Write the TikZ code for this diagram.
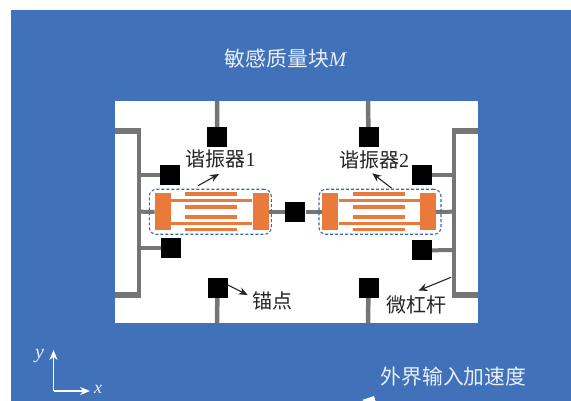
\documentclass[tikz,border=0pt]{standalone}
\usepackage{fontspec}
\setmainfont{Liberation Serif}
\newfontfamily\cjk{Noto Sans CJK SC}
\usetikzlibrary{arrows.meta}
\definecolor{bgblue}{HTML}{4172B9}
\definecolor{stemgray}{HTML}{757575}
\definecolor{resorange}{HTML}{E97A3B}
\definecolor{dashblue}{HTML}{3F68A8}
\definecolor{lighttext}{HTML}{E8EEF8}
\tikzset{
  x=1pt,y=-1pt,
  anchorbox/.style={fill=black,draw=none,minimum width=20pt,minimum height=20pt,inner sep=0pt},
  stem/.style={draw=stemgray,line width=4.5pt},
  leverarm/.style={draw=stemgray,line width=6pt},
  leverbeam/.style={draw=stemgray,line width=4.8pt},
  blockbox/.style={fill=resorange,draw=none,minimum width=16pt,minimum height=37pt,inner sep=0pt},
  bar/.style={draw=resorange,line width=3.1pt},
  tine/.style={draw=resorange,line width=3.5pt},
  frame/.style={draw=dashblue,densely dashed,line width=1.1pt,rounded corners=7pt,minimum width=122pt,minimum height=45pt,inner sep=0pt},
  lbl/.style={inner sep=0pt,font=\fontsize{20}{20}\selectfont\cjk,text=black!85},
  wlbl/.style={inner sep=0pt,font=\fontsize{20.8}{21}\selectfont\cjk,text=lighttext},
  callout/.style={draw=black!85,line width=1.1pt,-{Stealth[length=9pt,width=7.5pt]}},
  axisarrow/.style={draw=white,line width=1.3pt,-{Stealth[length=10pt,width=8pt]}},
}
\begin{document}
\begin{tikzpicture}
\useasboundingbox (0,0) rectangle (571,401);
\clip (0,0) rectangle (571,401);
\fill[white] (0,0) rectangle (571,401);
\fill[bgblue] (11,10) rectangle (571,401);
\fill[white] (115,101) rectangle (478,323);
% lever arms
\draw[leverbeam] (139,127.7) -- (139,297.7);
\draw[leverbeam] (454,128.3) -- (454,297.7);
\draw[leverarm] (115,130.7) -- (141.4,130.7);
\draw[leverarm] (115,294.7) -- (141.4,294.7);
\draw[leverarm] (478,131.3) -- (451.6,131.3);
\draw[leverarm] (478,294.7) -- (451.6,294.7);
% coordinates
\coordinate (LL) at (139,211.7);
\coordinate (RL) at (454,211.7);
\coordinate (LLa) at (139,175.3);
\coordinate (LLb) at (139,248.5);
\coordinate (RLa) at (454,175.3);
\coordinate (RLb) at (454,250);
\coordinate (T1) at (217,101);
\coordinate (T2) at (368,101);
\coordinate (B1) at (217,323);
\coordinate (B2) at (368,323);
% anchors
\node[anchorbox] (at1) at (217.2,137) {};
\node[anchorbox] (at2) at (368.5,137) {};
\node[anchorbox] (ab1) at (217.5,288) {};
\node[anchorbox] (ab2) at (368.5,288) {};
\node[anchorbox] (al1) at (170.3,175.3) {};
\node[anchorbox] (al2) at (171.2,248.5) {};
\node[anchorbox] (ar1) at (422.2,175.3) {};
\node[anchorbox] (ar2) at (422,250.5) {};
\node[anchorbox] (ac) at (295.3,212) {};
% resonator blocks
\node[blockbox] (b1l) at (162.8,212) {};
\node[blockbox] (b1r) at (260.5,212) {};
\node[blockbox] (b2l) at (330.3,212) {};
\node[blockbox] (b2r) at (427.8,212) {};
% stems
\draw[stem] (T1) -- (at1);
\draw[stem] (T2) -- (at2);
\draw[stem] (B1) -- (ab1);
\draw[stem] (B2) -- (ab2);
\draw[stem,line width=4pt] (LLa) -- (al1);
\draw[stem,line width=4pt] (LLb) -- (al2);
\draw[stem,line width=4pt] (RLa) -- (ar1);
\draw[stem,line width=4pt] (RLb) -- (ar2);
\draw[stem,line width=4pt] (LL) -- (b1l);
\draw[stem,line width=4pt] (RL) -- (b2r);
\draw[stem,line width=4pt] (b1r) -- (ac);
\draw[stem,line width=4pt] (b2l) -- (ac);
% bars
\draw[bar] (b1l.east |- 0,200.3) -- (b1r.west |- 0,200.3);
\draw[bar] (b1l.east |- 0,223.5) -- (b1r.west |- 0,223.5);
\draw[bar] (b2l.east |- 0,200.3) -- (b2r.west |- 0,200.3);
\draw[bar] (b2l.east |- 0,223.8) -- (b2r.west |- 0,223.8);
% tines
\foreach \yy in {194,207,217,229.5}{
  \draw[tine] (185.3,\yy) -- (237,\yy);
  \draw[tine] (353,\yy) -- (404.7,\yy);
}
% dashed frames
\node[frame] (r1) at (210.3,211.8) {};
\node[frame] (r2) at (380,211.8) {};
% labels
\node[wlbl] (title) at (285.5,59) {敏感质量块{\rmfamily\itshape M}};
\node[lbl] (l1) at (220.5,159) {谐振器{\rmfamily 1}};
\node[lbl] (l2) at (374,160) {谐振器{\rmfamily 2}};
\node[lbl] (l3) at (272,301) {锚点};
\node[lbl] (l4) at (416.5,304.5) {微杠杆};
\node[wlbl] (l5) at (453.5,377) {外界输入加速度};
% callouts
\coordinate (c1a) at (198,185.7); \coordinate (c1b) at (219,174);
\coordinate (c2a) at (391.7,188.3); \coordinate (c2b) at (372.3,173.3);
\coordinate (c3a) at (228,285); \coordinate (c3b) at (247.7,295);
\coordinate (c4a) at (451,277.3); \coordinate (c4b) at (418.3,290.7);
\draw[callout] (c1a) -- (c1b);
\draw[callout] (c2a) -- (c2b);
\draw[callout] (c3a) -- (c3b);
\draw[callout] (c4a) -- (c4b);
% axes
\coordinate (O) at (53.5,391);
\coordinate (Ax) at (90,391);
\coordinate (Ay) at (53.5,350);
\draw[axisarrow] (O) -- (Ax);
\draw[axisarrow] (O) -- (Ay);
\node[inner sep=0pt,text=lighttext,font=\fontsize{20}{20}\selectfont\itshape] (ly) at (39.5,356) {y};
\node[inner sep=0pt,text=lighttext,font=\fontsize{18}{18}\selectfont\itshape] (lx) at (98,389) {x};
% clipped white arrow at the bottom edge
\coordinate (wa) at (362,400);
\fill[white] (wa) -- (374,396) -- (375.5,401) -- (364,401) -- cycle;
\end{tikzpicture}
\end{document}
